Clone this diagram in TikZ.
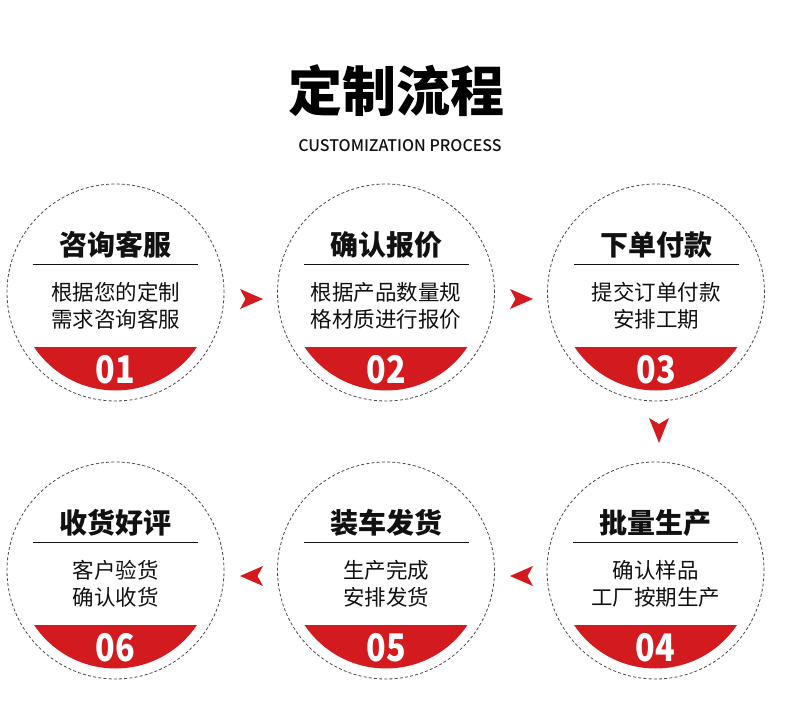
\documentclass[tikz,border=0pt]{standalone}
\usepackage{fontspec}
\newfontfamily\cjk{Noto Sans CJK SC}
\newfontfamily\cjkmed{Noto Sans CJK SC Medium}
\definecolor{brandred}{HTML}{D31A1F}
\definecolor{inkc}{HTML}{111111}
\definecolor{ringgray}{HTML}{4A4A4A}
\tikzset{
  ringc/.style={circle, minimum size=217pt, inner sep=0pt, draw=ringgray, line width=0.8pt, dash pattern=on 3pt off 2.2pt},
  titletext/.style={inner sep=0pt, text=inkc, font=\cjk\bfseries\fontsize{28}{28}\selectfont},
  bodytext/.style={inner sep=0pt, text=inkc, font=\cjk\fontsize{21.5}{21.5}\selectfont},
  numtext/.style={inner sep=0pt, text=white, font=\cjk\bfseries\fontsize{38}{38}\selectfont},
  rulel/.style={draw=inkc, line width=1pt},
  pointer/.style={fill=brandred, draw=none}
}
\newcommand\flowstep[8]{%
  \begin{scope}[shift={(#2,#3)}]
    \begin{scope}
      \clip (-100,55) rectangle (100,100);
      \fill[brandred] (0,0) circle (98);
    \end{scope}
    \node[ringc] (#1) at (0,0) {};
    \node[titletext] (#1-t) at (0,-48) {#4};
    \coordinate (#1-l) at (-82.5,-28);
    \coordinate (#1-r) at (82.5,-28);
    \draw[rulel] (#1-l) -- (#1-r);
    \node[bodytext] (#1-a) at (0,-0.5) {#5};
    \node[bodytext] (#1-b) at (0,26.5) {#6};
    \node[numtext] (#1-n) at (0,#8) {\scalebox{0.85}[1]{#7}};
  \end{scope}}
\begin{document}
\begin{tikzpicture}[x=1pt,y=-1pt]
\useasboundingbox[fill=white] (0,0) rectangle (790,722);
\node[inner sep=0pt, text=black, font=\cjk\bfseries\fontsize{54}{54}\selectfont] (head) at (396,91) {定制流程};
\node[inner sep=0pt, text=inkc, font=\cjkmed\fontsize{16}{16}\selectfont] (sub) at (400,146) {CUSTOMIZATION PROCESS};

\flowstep{s1}{115.5}{292.5}{咨询客服}{根据您的定制}{需求咨询客服}{01}{77}
\flowstep{s2}{386}{292.5}{确认报价}{根据产品数量规}{格材质进行报价}{02}{77}
\flowstep{s3}{656}{292.5}{下单付款}{提交订单付款}{安排工期}{03}{77}
\flowstep{s4}{655.5}{570.5}{批量生产}{确认样品}{工厂按期生产}{04}{77}
\flowstep{s5}{386}{570.5}{装车发货}{生产完成}{安排发货}{05}{77}
\flowstep{s6}{115.5}{570.5}{收货好评}{客户验货}{确认收货}{06}{77}

% right-pointing markers, row 1
\fill[pointer] (240,289) -- (263,299) -- (240,309) -- (245.5,299) -- cycle;
\fill[pointer] (510,289) -- (533,299) -- (510,309) -- (515.5,299) -- cycle;
% down-pointing marker
\fill[pointer] (649,418) -- (659,443) -- (669,418) -- (659,424) -- cycle;
% left-pointing markers, row 2
\fill[pointer] (263,566) -- (240,576) -- (263,586) -- (257.5,576) -- cycle;
\fill[pointer] (533,566) -- (510,576) -- (533,586) -- (527.5,576) -- cycle;
\end{tikzpicture}
\end{document}
